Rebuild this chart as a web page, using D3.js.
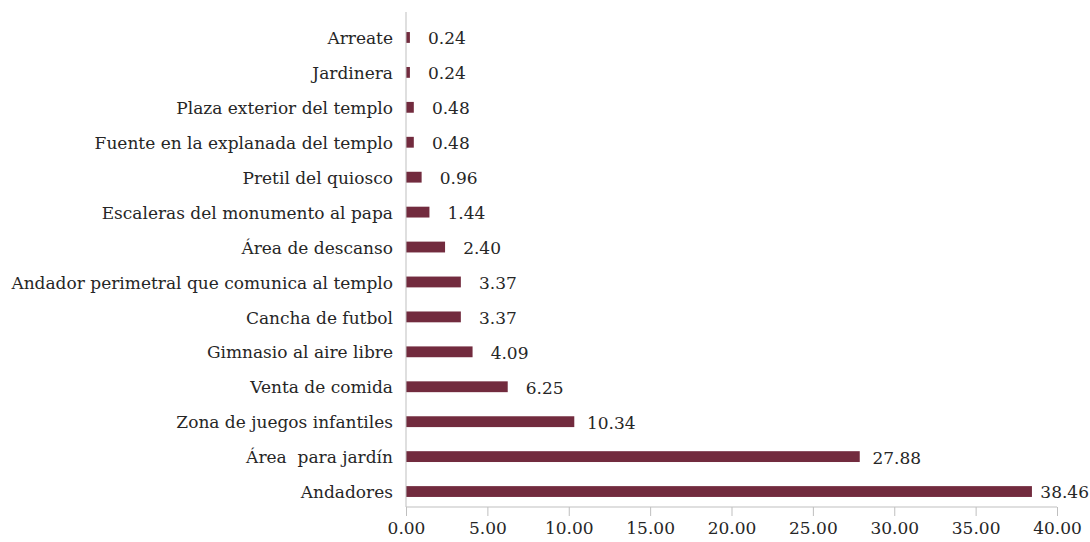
<!DOCTYPE html>
<html>
  <head>
    <script src="https://d3js.org/d3.v7.min.js"></script>
    <style>
      body { margin: 0; background: #fff; }
      text { font-family: "DejaVu Serif", serif; fill: #262626; white-space: pre; }
      .axis path, .axis line { stroke: #bfbfbf; }
    </style>
  </head>
  <body>
    <svg width="1090" height="542"></svg>
    <script>
      const categories = [
        "Arreate",
        "Jardinera",
        "Plaza exterior del templo",
        "Fuente en la explanada del templo",
        "Pretil del quiosco",
        "Escaleras del monumento al papa",
        "Área de descanso",
        "Andador perimetral que comunica al templo",
        "Cancha de futbol",
        "Gimnasio al aire libre",
        "Venta de comida",
        "Zona de juegos infantiles",
        "Área  para jardín",
        "Andadores"
      ];
      const values = [0.24, 0.24, 0.48, 0.48, 0.96, 1.44, 2.40, 3.37, 3.37, 4.09, 6.25, 10.34, 27.88, 38.46];
      const xTicks = [0, 5, 10, 15, 20, 25, 30, 35, 40];

      const svg = d3.select("svg");
      const x = d3.scaleLinear().domain([0, 40]).range([406, 1057]);
      const y = d3.scaleBand().domain(categories).range([20, 509]).paddingInner(0.69).paddingOuter(0.345);

      svg.selectAll(".bar")
        .data(categories)
        .enter().append("rect")
          .attr("class", "bar")
          .attr("x", x(0))
          .attr("y", d => y(d))
          .attr("width", (d, i) => x(values[i]) - x(0))
          .attr("height", y.bandwidth())
          .attr("fill", "#722b3e");

      // value labels: centred a bit past the bar end, kept inside the picture
      svg.selectAll(".val")
        .data(categories)
        .enter().append("text")
          .attr("class", "val")
          .attr("y", d => y(d) + y.bandwidth() / 2 + 1)
          .attr("dy", "0.35em")
          .attr("text-anchor", "middle")
          .style("font-size", "17px")
          .text((d, i) => values[i].toFixed(2))
          .attr("x", function(d, i) {
            const half = this.getComputedTextLength() / 2;
            return Math.min(x(values[i]) + 37, 1089 - half);
          });

      svg.selectAll(".cat")
        .data(categories)
        .enter().append("text")
          .attr("class", "cat")
          .attr("x", 393)
          .attr("y", d => y(d) + y.bandwidth() / 2 + 1)
          .attr("dy", "0.33em")
          .attr("text-anchor", "end")
          .style("font-size", "17px")
          .text(d => d);

      // value axis
      const xAxis = svg.append("g")
        .attr("class", "axis")
        .attr("transform", "translate(0,507)")
        .call(d3.axisBottom(x).tickValues(xTicks).tickSize(9).tickSizeOuter(0).tickFormat(d3.format(".2f")));
      xAxis.select(".domain").attr("d", `M${x(0)},0H${x(40)}`);
      xAxis.selectAll("text").style("font-size", "17px").attr("y", 15).attr("dy", "0.71em").attr("fill", null);

      // category axis line
      svg.append("line")
        .attr("x1", x(0)).attr("x2", x(0))
        .attr("y1", 12).attr("y2", 507)
        .attr("stroke", "#bfbfbf");
    </script>
  </body>
</html>
